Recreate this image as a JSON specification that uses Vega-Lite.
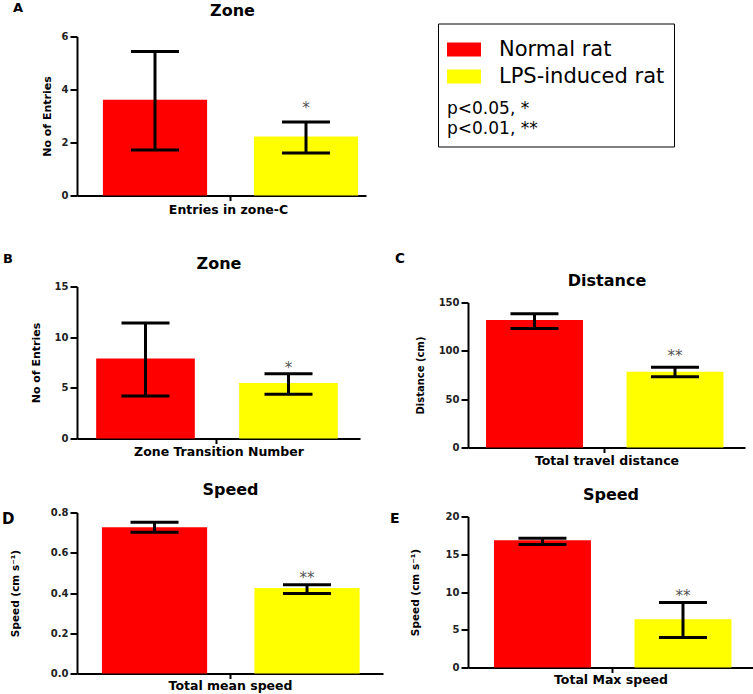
{
  "$schema": "https://vega.github.io/schema/vega-lite/v6.json",
  "padding": {"left": 2, "top": 1.5, "right": 0, "bottom": 0},
  "background": "white",
  "config": {
    "view": {"stroke": null},
    "font": "DejaVu Sans",
    "axis": {"domainColor": "black", "domainWidth": 2, "tickColor": "black", "tickWidth": 2, "tickSize": 7, "labelFont": "DejaVu Sans", "labelFontWeight": "bold", "labelFontSize": 10, "labelColor": "#222", "labelPadding": 2, "titleFont": "DejaVu Sans", "titleFontWeight": "bold", "titleColor": "black", "grid": false},
    "tick": {"opacity": 1}
  },
  "spacing": 7,
  "hconcat": [
    {
      "spacing": 36,
      "vconcat": [
        {
          "width": 289, "height": 159,
          "title": {"text": "A", "anchor": "start", "frame": "group", "align": "left", "baseline": "middle", "offset": 0, "dx": -64, "dy": 18.5, "fontSize": 13, "fontWeight": "bold", "color": "black"},
          "data": {"values": [
            {"group": "Normal rat", "mean": 3.61, "lo": 1.72, "hi": 5.43, "sig": ""},
            {"group": "LPS-induced rat", "mean": 2.23, "lo": 1.60, "hi": 2.77, "sig": "*"}
          ]},
          "resolve": {"axis": {"x": "independent"}},
          "layer": [
            {"mark": {"type": "bar", "width": {"band": 1.38}},
             "encoding": {
               "x": {"field": "group", "type": "nominal", "scale": {"domain": ["Normal rat", " ", "LPS-induced rat"], "paddingInner": 0, "paddingOuter": 0.414, "align": 0.644},
                     "axis": {"orient": "bottom", "values": [" "], "labels": false, "tickSize": 5, "title": "Entries in zone-C", "titleY": 13.8, "titleX": 151, "titleBaseline": "middle", "titleFontSize": 12.5}},
               "y": {"field": "mean", "type": "quantitative", "scale": {"domain": [0, 6], "nice": false},
                     "axis": {"values": [0, 2, 4, 6], "title": "No of Entries", "titleX": -29.5, "titleBaseline": "middle", "titleFontSize": 11}},
               "color": {"field": "group", "type": "nominal", "scale": {"domain": ["Normal rat", "LPS-induced rat"], "range": ["#ff0000", "#ffff00"]},
                         "legend": {"orient": "none", "legendX": 361, "legendY": -13, "title": ["p<0.05, *", "p<0.01, **"], "titleOrient": "bottom", "titleAnchor": "start", "titleFontSize": 17, "titleFontWeight": "normal", "titleColor": "black", "titleLineHeight": 20.5, "titlePadding": 14, "labelFontSize": 21, "labelColor": "black", "labelOffset": 18, "labelLimit": 400, "symbolType": "M-1,-0.41H1V0.41H-1Z", "symbolSize": 1156, "symbolStrokeWidth": 0, "rowPadding": -1.5, "padding": 9, "strokeColor": "black", "fillColor": "white"}}
             }},
            {"mark": {"type": "rule", "color": "black", "strokeWidth": 3},
             "encoding": {"x": {"field": "group", "type": "nominal", "axis": null},
                          "y": {"field": "lo", "type": "quantitative", "scale": {"domain": [0, 6], "nice": false}, "axis": {"values": [0, 2, 4, 6], "title": "No of Entries", "titleX": -29.5, "titleBaseline": "middle", "titleFontSize": 11}},
                          "y2": {"field": "hi"}}},
            {"mark": {"type": "tick", "color": "black", "size": 48, "thickness": 3},
             "encoding": {"x": {"field": "group", "type": "nominal", "axis": null},
                          "y": {"field": "hi", "type": "quantitative", "scale": {"domain": [0, 6], "nice": false}, "axis": {"values": [0, 2, 4, 6], "title": "No of Entries", "titleX": -29.5, "titleBaseline": "middle", "titleFontSize": 11}}}},
            {"mark": {"type": "tick", "color": "black", "size": 48, "thickness": 3},
             "encoding": {"x": {"field": "group", "type": "nominal", "axis": null},
                          "y": {"field": "lo", "type": "quantitative", "scale": {"domain": [0, 6], "nice": false}, "axis": {"values": [0, 2, 4, 6], "title": "No of Entries", "titleX": -29.5, "titleBaseline": "middle", "titleFontSize": 11}}}},
            {"mark": {"type": "text", "dy": -14, "fontSize": 15, "color": "#555", "baseline": "middle"},
             "encoding": {"x": {"field": "group", "type": "nominal", "axis": {"orient": "top", "domain": false, "ticks": false, "labels": false, "title": "Zone", "titleY": -26, "titleX": 155, "titleBaseline": "middle", "titleFontSize": 16}},
                          "y": {"field": "hi", "type": "quantitative", "scale": {"domain": [0, 6], "nice": false}, "axis": {"values": [0, 2, 4, 6], "title": "No of Entries", "titleX": -29.5, "titleBaseline": "middle", "titleFontSize": 11}},
                          "text": {"field": "sig"}}}
          ]
        },
        {
          "spacing": 23,
          "vconcat": [
            {
              "width": 283, "height": 152,
              "title": {"text": "B", "anchor": "start", "frame": "group", "align": "left", "baseline": "middle", "offset": 0, "dx": -74, "dy": 16.3, "fontSize": 13, "fontWeight": "bold", "color": "black"},
              "data": {"values": [
                {"group": "Normal rat", "mean": 7.9, "lo": 4.2, "hi": 11.39, "sig": ""},
                {"group": "LPS-induced rat", "mean": 5.48, "lo": 4.36, "hi": 6.40, "sig": "*"}
              ]},
              "resolve": {"axis": {"x": "independent"}},
              "layer": [
                {"mark": {"type": "bar", "width": {"band": 1.38}},
                 "encoding": {
                   "x": {"field": "group", "type": "nominal", "scale": {"domain": ["Normal rat", " ", "LPS-induced rat"], "paddingInner": 0, "paddingOuter": 0.479, "align": 0.478},
                         "axis": {"orient": "bottom", "values": [" "], "labels": false, "tickSize": 5, "title": "Zone Transition Number", "titleY": 13.2, "titleBaseline": "middle", "titleFontSize": 12.5}},
                   "y": {"field": "mean", "type": "quantitative", "scale": {"domain": [0, 15], "nice": false},
                         "axis": {"values": [0, 5, 10, 15], "title": "No of Entries", "titleX": -41, "titleBaseline": "middle", "titleFontSize": 11}},
                   "color": {"field": "group", "type": "nominal", "scale": {"domain": ["Normal rat", "LPS-induced rat"], "range": ["#ff0000", "#ffff00"]}, "legend": null}
                 }},
                {"mark": {"type": "rule", "color": "black", "strokeWidth": 3},
                 "encoding": {"x": {"field": "group", "type": "nominal", "axis": null},
                              "y": {"field": "lo", "type": "quantitative", "scale": {"domain": [0, 15], "nice": false}, "axis": {"values": [0, 5, 10, 15], "title": "No of Entries", "titleX": -41, "titleBaseline": "middle", "titleFontSize": 11}},
                              "y2": {"field": "hi"}}},
                {"mark": {"type": "tick", "color": "black", "size": 48, "thickness": 3},
                 "encoding": {"x": {"field": "group", "type": "nominal", "axis": null},
                              "y": {"field": "hi", "type": "quantitative", "scale": {"domain": [0, 15], "nice": false}, "axis": {"values": [0, 5, 10, 15], "title": "No of Entries", "titleX": -41, "titleBaseline": "middle", "titleFontSize": 11}}}},
                {"mark": {"type": "tick", "color": "black", "size": 48, "thickness": 3},
                 "encoding": {"x": {"field": "group", "type": "nominal", "axis": null},
                              "y": {"field": "lo", "type": "quantitative", "scale": {"domain": [0, 15], "nice": false}, "axis": {"values": [0, 5, 10, 15], "title": "No of Entries", "titleX": -41, "titleBaseline": "middle", "titleFontSize": 11}}}},
                {"mark": {"type": "text", "dy": -6.1, "fontSize": 15, "color": "#555", "baseline": "middle"},
                 "encoding": {"x": {"field": "group", "type": "nominal", "axis": {"orient": "top", "domain": false, "ticks": false, "labels": false, "title": "Zone", "titleY": -23.3, "titleBaseline": "middle", "titleFontSize": 16}},
                              "y": {"field": "hi", "type": "quantitative", "scale": {"domain": [0, 15], "nice": false}, "axis": {"values": [0, 5, 10, 15], "title": "No of Entries", "titleX": -41, "titleBaseline": "middle", "titleFontSize": 11}},
                              "text": {"field": "sig"}}}
              ]
            },
            {
              "width": 306, "height": 161,
              "title": {"text": "D", "anchor": "start", "frame": "group", "align": "left", "baseline": "middle", "offset": 0, "dx": -75, "dy": 52, "fontSize": 15, "fontWeight": "bold", "color": "black"},
              "data": {"values": [
                {"group": "Normal rat", "mean": 0.727, "lo": 0.702, "hi": 0.752, "sig": ""},
                {"group": "LPS-induced rat", "mean": 0.425, "lo": 0.397, "hi": 0.441, "sig": "**"}
              ]},
              "resolve": {"axis": {"x": "independent"}},
              "layer": [
                {"mark": {"type": "bar", "width": {"band": 1.38}},
                 "encoding": {
                   "x": {"field": "group", "type": "nominal", "scale": {"domain": ["Normal rat", " ", "LPS-induced rat"], "paddingInner": 0, "paddingOuter": 0.5066, "align": 0.51},
                         "axis": {"orient": "bottom", "values": [" "], "labels": false, "tickSize": 5, "title": "Total mean speed", "titleY": 12.3, "titleBaseline": "middle", "titleFontSize": 12.5}},
                   "y": {"field": "mean", "type": "quantitative", "scale": {"domain": [0, 0.8], "nice": false},
                         "axis": {"values": [0, 0.2, 0.4, 0.6, 0.8], "format": ".1f", "title": "Speed (cm s⁻¹)", "titleX": -62, "titleBaseline": "middle", "titleFontSize": 10.5}},
                   "color": {"field": "group", "type": "nominal", "scale": {"domain": ["Normal rat", "LPS-induced rat"], "range": ["#ff0000", "#ffff00"]}, "legend": null}
                 }},
                {"mark": {"type": "rule", "color": "black", "strokeWidth": 3},
                 "encoding": {"x": {"field": "group", "type": "nominal", "axis": null},
                              "y": {"field": "lo", "type": "quantitative", "scale": {"domain": [0, 0.8], "nice": false}, "axis": {"values": [0, 0.2, 0.4, 0.6, 0.8], "format": ".1f", "title": "Speed (cm s⁻¹)", "titleX": -62, "titleBaseline": "middle", "titleFontSize": 10.5}},
                              "y2": {"field": "hi"}}},
                {"mark": {"type": "tick", "color": "black", "size": 48, "thickness": 3},
                 "encoding": {"x": {"field": "group", "type": "nominal", "axis": null},
                              "y": {"field": "hi", "type": "quantitative", "scale": {"domain": [0, 0.8], "nice": false}, "axis": {"values": [0, 0.2, 0.4, 0.6, 0.8], "format": ".1f", "title": "Speed (cm s⁻¹)", "titleX": -62, "titleBaseline": "middle", "titleFontSize": 10.5}}}},
                {"mark": {"type": "tick", "color": "black", "size": 48, "thickness": 3},
                 "encoding": {"x": {"field": "group", "type": "nominal", "axis": null},
                              "y": {"field": "lo", "type": "quantitative", "scale": {"domain": [0, 0.8], "nice": false}, "axis": {"values": [0, 0.2, 0.4, 0.6, 0.8], "format": ".1f", "title": "Speed (cm s⁻¹)", "titleX": -62, "titleBaseline": "middle", "titleFontSize": 10.5}}}},
                {"mark": {"type": "text", "dy": -6.5, "fontSize": 15, "color": "#555", "baseline": "middle"},
                 "encoding": {"x": {"field": "group", "type": "nominal", "axis": {"orient": "top", "domain": false, "ticks": false, "labels": false, "title": "Speed", "titleY": -22.7, "titleBaseline": "middle", "titleFontSize": 16}},
                              "y": {"field": "hi", "type": "quantitative", "scale": {"domain": [0, 0.8], "nice": false}, "axis": {"values": [0, 0.2, 0.4, 0.6, 0.8], "format": ".1f", "title": "Speed (cm s⁻¹)", "titleX": -62, "titleBaseline": "middle", "titleFontSize": 10.5}},
                              "text": {"field": "sig"}}}
              ]
            }
          ]
        }
      ]
    },
    {
      "spacing": 20,
      "vconcat": [
        {
          "width": 10, "height": 195,
          "data": {"values": [{"group": "Normal rat"}]},
          "mark": {"type": "point", "opacity": 0}
        },
        {
          "width": 277, "height": 145,
          "title": {"text": "C", "anchor": "start", "frame": "group", "align": "left", "baseline": "middle", "offset": 0, "dx": -73, "dy": -0.7, "fontSize": 13.5, "fontWeight": "bold", "color": "black"},
          "data": {"values": [
            {"group": "Normal rat", "mean": 132, "lo": 123, "hi": 138.3, "sig": ""},
            {"group": "LPS-induced rat", "mean": 78.4, "lo": 73.2, "hi": 83, "sig": "**"}
          ]},
          "resolve": {"axis": {"x": "independent"}},
          "layer": [
            {"mark": {"type": "bar", "width": {"band": 1.38}},
             "encoding": {
               "x": {"field": "group", "type": "nominal", "scale": {"domain": ["Normal rat", " ", "LPS-induced rat"], "paddingInner": 0, "paddingOuter": 0.4715, "align": 0.4736},
                     "axis": {"orient": "bottom", "values": [" "], "labels": false, "tickSize": 5, "title": "Total travel distance", "titleY": 12.5, "titleBaseline": "middle", "titleFontSize": 12.5}},
               "y": {"field": "mean", "type": "quantitative", "scale": {"domain": [0, 150], "nice": false},
                     "axis": {"values": [0, 50, 100, 150], "title": "Distance (cm)", "titleX": -47.3, "titleBaseline": "middle", "titleFontSize": 10}},
               "color": {"field": "group", "type": "nominal", "scale": {"domain": ["Normal rat", "LPS-induced rat"], "range": ["#ff0000", "#ffff00"]}, "legend": null}
             }},
            {"mark": {"type": "rule", "color": "black", "strokeWidth": 3},
             "encoding": {"x": {"field": "group", "type": "nominal", "axis": null},
                          "y": {"field": "lo", "type": "quantitative", "scale": {"domain": [0, 150], "nice": false}, "axis": {"values": [0, 50, 100, 150], "title": "Distance (cm)", "titleX": -47.3, "titleBaseline": "middle", "titleFontSize": 10}},
                          "y2": {"field": "hi"}}},
            {"mark": {"type": "tick", "color": "black", "size": 48, "thickness": 3},
             "encoding": {"x": {"field": "group", "type": "nominal", "axis": null},
                          "y": {"field": "hi", "type": "quantitative", "scale": {"domain": [0, 150], "nice": false}, "axis": {"values": [0, 50, 100, 150], "title": "Distance (cm)", "titleX": -47.3, "titleBaseline": "middle", "titleFontSize": 10}}}},
            {"mark": {"type": "tick", "color": "black", "size": 48, "thickness": 3},
             "encoding": {"x": {"field": "group", "type": "nominal", "axis": null},
                          "y": {"field": "lo", "type": "quantitative", "scale": {"domain": [0, 150], "nice": false}, "axis": {"values": [0, 50, 100, 150], "title": "Distance (cm)", "titleX": -47.3, "titleBaseline": "middle", "titleFontSize": 10}}}},
            {"mark": {"type": "text", "dy": -11.1, "fontSize": 15, "color": "#555", "baseline": "middle"},
             "encoding": {"x": {"field": "group", "type": "nominal", "axis": {"orient": "top", "domain": false, "ticks": false, "labels": false, "title": "Distance", "titleY": -21.7, "titleBaseline": "middle", "titleFontSize": 16}},
                          "y": {"field": "hi", "type": "quantitative", "scale": {"domain": [0, 150], "nice": false}, "axis": {"values": [0, 50, 100, 150], "title": "Distance (cm)", "titleX": -47.3, "titleBaseline": "middle", "titleFontSize": 10}},
                          "text": {"field": "sig"}}}
          ]
        },
        {
          "width": 285, "height": 151,
          "title": {"text": "E", "anchor": "start", "frame": "group", "align": "left", "baseline": "middle", "offset": 0, "dx": -78, "dy": 46.7, "fontSize": 14, "fontWeight": "bold", "color": "black"},
          "data": {"values": [
            {"group": "Normal rat", "mean": 16.86, "lo": 16.29, "hi": 17.12, "sig": ""},
            {"group": "LPS-induced rat", "mean": 6.4, "lo": 3.97, "hi": 8.61, "sig": "**"}
          ]},
          "resolve": {"axis": {"x": "independent"}},
          "layer": [
            {"mark": {"type": "bar", "width": {"band": 1.38}},
             "encoding": {
               "x": {"field": "group", "type": "nominal", "scale": {"domain": ["Normal rat", " ", "LPS-induced rat"], "paddingInner": 0, "paddingOuter": 0.528, "align": 0.53},
                     "axis": {"orient": "bottom", "values": [" "], "labels": false, "tickSize": 5, "title": "Total Max speed", "titleY": 11.8, "titleBaseline": "middle", "titleFontSize": 12.5}},
               "y": {"field": "mean", "type": "quantitative", "scale": {"domain": [0, 20], "nice": false},
                     "axis": {"values": [0, 5, 10, 15, 20], "title": "Speed (cm s⁻¹)", "titleX": -53, "titleBaseline": "middle", "titleFontSize": 10.5}},
               "color": {"field": "group", "type": "nominal", "scale": {"domain": ["Normal rat", "LPS-induced rat"], "range": ["#ff0000", "#ffff00"]}, "legend": null}
             }},
            {"mark": {"type": "rule", "color": "black", "strokeWidth": 3},
             "encoding": {"x": {"field": "group", "type": "nominal", "axis": null},
                          "y": {"field": "lo", "type": "quantitative", "scale": {"domain": [0, 20], "nice": false}, "axis": {"values": [0, 5, 10, 15, 20], "title": "Speed (cm s⁻¹)", "titleX": -53, "titleBaseline": "middle", "titleFontSize": 10.5}},
                          "y2": {"field": "hi"}}},
            {"mark": {"type": "tick", "color": "black", "size": 48, "thickness": 3},
             "encoding": {"x": {"field": "group", "type": "nominal", "axis": null},
                          "y": {"field": "hi", "type": "quantitative", "scale": {"domain": [0, 20], "nice": false}, "axis": {"values": [0, 5, 10, 15, 20], "title": "Speed (cm s⁻¹)", "titleX": -53, "titleBaseline": "middle", "titleFontSize": 10.5}}}},
            {"mark": {"type": "tick", "color": "black", "size": 48, "thickness": 3},
             "encoding": {"x": {"field": "group", "type": "nominal", "axis": null},
                          "y": {"field": "lo", "type": "quantitative", "scale": {"domain": [0, 20], "nice": false}, "axis": {"values": [0, 5, 10, 15, 20], "title": "Speed (cm s⁻¹)", "titleX": -53, "titleBaseline": "middle", "titleFontSize": 10.5}}}},
            {"mark": {"type": "text", "dy": -6.1, "fontSize": 15, "color": "#555", "baseline": "middle"},
             "encoding": {"x": {"field": "group", "type": "nominal", "axis": {"orient": "top", "domain": false, "ticks": false, "labels": false, "title": "Speed", "titleY": -22, "titleBaseline": "middle", "titleFontSize": 16}},
                          "y": {"field": "hi", "type": "quantitative", "scale": {"domain": [0, 20], "nice": false}, "axis": {"values": [0, 5, 10, 15, 20], "title": "Speed (cm s⁻¹)", "titleX": -53, "titleBaseline": "middle", "titleFontSize": 10.5}},
                          "text": {"field": "sig"}}}
          ]
        }
      ]
    }
  ]
}
